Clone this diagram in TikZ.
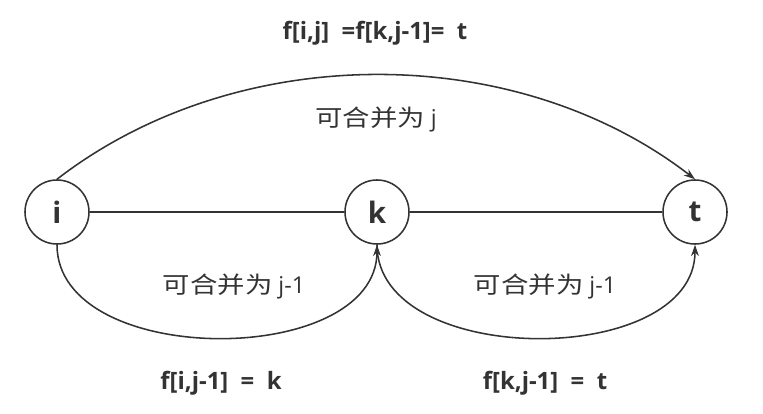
\documentclass[tikz,border=0pt]{standalone}
\usepackage{fontspec}
\setmainfont{Open Sans}
\newfontfamily\cjk[FakeStretch=1.18]{Noto Sans CJK SC}
\usetikzlibrary{arrows.meta}
\definecolor{inkgray}{RGB}{51,51,51}

\begin{document}
\begin{tikzpicture}[x=0.025cm, y=-0.025cm, >={Stealth[length=8pt,width=5.5pt]}, line width=1.1pt,
    vertex/.style={circle, draw=inkgray, minimum size=1.6cm, inner sep=0pt,
      text=inkgray, font=\fontsize{21}{24}\selectfont\bfseries},
    eqlabel/.style={text=inkgray, font=\fontsize{17}{20}\selectfont\bfseries},
    arclabel/.style={text=inkgray, font=\fontsize{16.5}{19}\selectfont}]
    \useasboundingbox (0,0) rectangle (763,414);
    % vertices
    \node[vertex] (i) at (57,212) {i};
    \node[vertex] (k) at (377,212) {k};
    \node[vertex] (t) at (695,212) {t};
    % straight chain
    \draw[inkgray] (i) -- (k);
    \draw[inkgray] (k) -- (t);
    % merge arcs
    \draw[inkgray, ->] (i.north) .. controls +(180,-139) and +(-180,-139) .. (t.north);
    \draw[inkgray, ->] (i.south) .. controls +(0,124) and +(0,124) .. (k.south);
    \draw[inkgray, ->] (k.south) .. controls +(0,124) and +(0,124) .. (t.south);
    % labels
    \node[eqlabel] (top) at (375,33) {f[i,j]~ =f[k,j-1]=~ t};
    \node[arclabel] (mj) at (376,120) {{\cjk 可合并为} j};
    \node[arclabel] (mi) at (234,287) {{\cjk 可合并为} j-1};
    \node[arclabel] (mk) at (545,287) {{\cjk 可合并为} j-1};
    \node[eqlabel] (fi) at (221,383) {f[i,j-1]~ =~ k};
    \node[eqlabel] (fk) at (545,383) {f[k,j-1]~ =~ t};
\end{tikzpicture}
\end{document}
